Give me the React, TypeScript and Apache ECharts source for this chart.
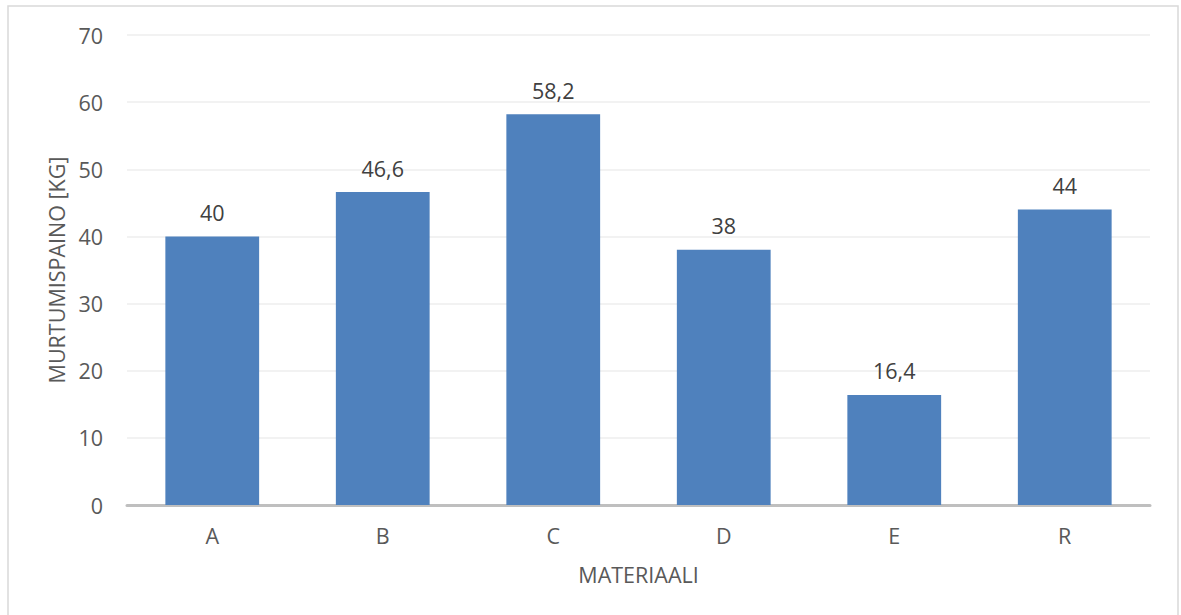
import React, { useEffect, useRef } from "react";
import * as echarts from "echarts";

// Breaking weight per material
const categories = ["A", "B", "C", "D", "E", "R"];
const breakingWeight = [40, 46.6, 58.2, 38, 16.4, 44];
const yTicks = { min: 0, max: 70, interval: 10 };

const FONT = "'Open Sans', 'Noto Sans', sans-serif";
const TEXT = "#595959";
const FS = 21.5;

export default function App() {
  const ref = useRef<HTMLDivElement>(null);

  useEffect(() => {
    if (!ref.current) return;
    const chart = echarts.init(ref.current, null, { renderer: "svg" });
    chart.setOption({
      animation: false,
      backgroundColor: "#ffffff",
      textStyle: { fontFamily: FONT },
      graphic: [
        {
          type: "rect",
          shape: { x: 8, y: 6, width: 1170, height: 640 },
          style: { fill: "none", stroke: "#d9d9d9", lineWidth: 1.5 },
          silent: true,
        },
      ],
      grid: { left: 127, right: 31, top: 35, bottom: 110 },
      xAxis: {
        type: "category",
        data: categories,
        name: "MATERIAALI",
        nameLocation: "middle",
        nameGap: 58,
        nameTextStyle: { fontSize: FS, color: TEXT, fontFamily: FONT },
        axisLine: { show: true, lineStyle: { color: "#bfbfbf", width: 3 } },
        axisTick: { show: false },
        axisLabel: { fontSize: FS, color: TEXT, margin: 19, fontFamily: FONT },
      },
      yAxis: {
        type: "value",
        min: yTicks.min,
        max: yTicks.max,
        interval: yTicks.interval,
        name: "MURTUMISPAINO [KG]",
        nameLocation: "middle",
        nameGap: 58,
        nameRotate: 90,
        nameTextStyle: { fontSize: FS, color: TEXT, fontFamily: FONT },
        axisLine: { show: false },
        axisTick: { show: false },
        axisLabel: { fontSize: FS, color: TEXT, margin: 24, fontFamily: FONT },
        splitLine: { lineStyle: { color: "#eeeeee", width: 1.5 } },
      },
      series: [
        {
          type: "bar",
          data: breakingWeight,
          barWidth: "55%",
          itemStyle: { color: "#4f81bd" },
          label: {
            show: true,
            position: "top",
            distance: 13,
            fontSize: FS,
            color: "#404040",
            fontFamily: FONT,
            formatter: (p: any) => String(p.value).replace(".", ","),
          },
        },
      ],
    });
    return () => chart.dispose();
  }, []);

  return (
    <div
      ref={ref}
      style={{ position: "fixed", left: 0, top: 0, width: 1181, height: 615 }}
    />
  );
}
